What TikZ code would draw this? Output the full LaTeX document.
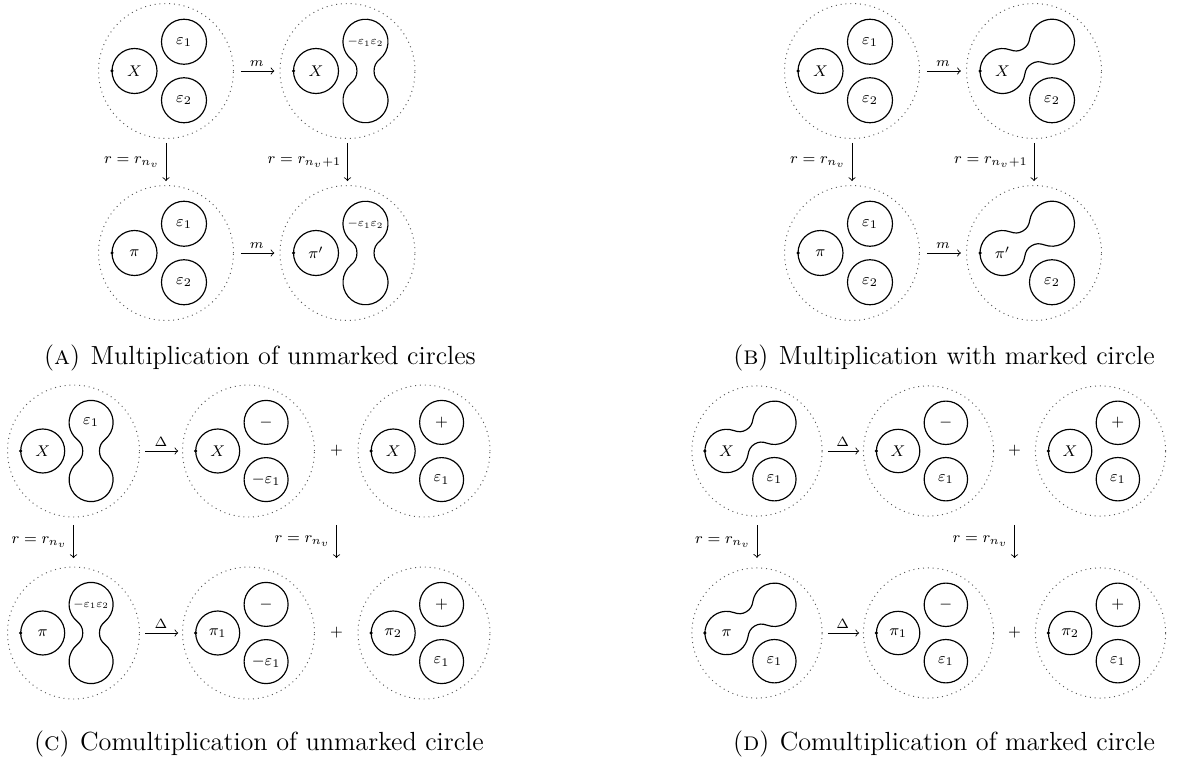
\documentclass[tikz,border=0pt]{standalone}
\tikzset{
  lobe/.style={line width=0.6pt},
  frame/.style={circle, draw=black!65, dotted, line width=0.5pt, inner sep=0pt, outer sep=0pt},
  lbl/.style={font=\fontsize{8}{9.6}\selectfont, inner sep=0pt},
  tinylbl/.style={font=\fontsize{7}{8.4}\selectfont, inner sep=0pt, scale=0.85},
  map/.style={->, line width=0.45pt, shorten <=3.8pt, shorten >=2.9pt},
  vmap/.style={->, line width=0.45pt},
  maplabel/.style={above, inner sep=2pt, font=\fontsize{7}{8.4}\selectfont},
  rlabel/.style={left, inner sep=3pt, font=\fontsize{8}{9.6}\selectfont},
  marker/.style={fill=black, circle, inner sep=0pt, minimum size=1.8pt},
  sumsign/.style={font=\fontsize{8}{9.6}\selectfont, inner sep=0pt},
  caption/.style={font=\fontsize{13.5}{16}\selectfont, inner sep=0pt, anchor=base},
  pics/dumbbell/.style={code={
    \draw[lobe] (0.3214,{#1-0.383}) arc[start angle=-50, end angle=230, radius=0.5]
      to[out=-40,in=90] (-0.19,0) to[out=-90,in=40] (-0.3214,{-#1+0.383})
      arc[start angle=130, end angle=410, radius=0.5]
      to[out=140,in=-90] (0.19,0) to[out=90,in=220] (0.3214,{#1-0.383}) -- cycle;
  }},
}
% three separate circles
\newcommand\trio[4]{%
  \draw[lobe] (-0.7,0) circle[radius=0.5];
  \draw[lobe] (0.4,0.65) circle[radius=0.5];
  \draw[lobe] (0.4,-0.65) circle[radius=0.5];
  \node[marker] (#1m) at (-1.2,0) {};
  \node[lbl] (#1x) at (-0.7,0) {#2};
  \node[lbl] (#1u) at (0.4,0.65) {#3};
  \node[lbl] (#1d) at (0.4,-0.65) {#4};
}
% marked circle plus vertical merged circle
\newcommand\vdumb[4]{%
  \draw[lobe] (-0.7,0) circle[radius=0.5];
  \pic at (0.4,0) {dumbbell=0.65};
  \node[marker] (#1m) at (-1.2,0) {};
  \node[lbl] (#1x) at (-0.7,0) {#2};
  \node[#4] (#1u) at (0.4,0.65) {#3};
}
% marked circle merged with upper circle
\newcommand\ddumb[3]{%
  \pic[rotate=-59.4] at (-0.15,0.325) {dumbbell=0.639};
  \draw[lobe] (0.4,-0.65) circle[radius=0.5];
  \node[marker] (#1m) at (-1.2,0) {};
  \node[lbl] (#1x) at (-0.7,0) {#2};
  \node[lbl] (#1d) at (0.4,-0.65) {#3};
}
\begin{document}
\begin{tikzpicture}[x=0.515pt,y=0.515pt]
\useasboundingbox (0,0) rectangle (1193,757);

%%%%% Panel A
\def\PU{23.175pt}
\begin{scope}[shift={(166,686)},x=\PU,y=\PU]
  \node[frame,minimum size={3*\PU}] (A1) at (0,0) {};
  \trio{A1}{$X$}{$\varepsilon_1$}{$\varepsilon_2$}
\end{scope}
\begin{scope}[shift={(347.5,686)},x=\PU,y=\PU]
  \node[frame,minimum size={3*\PU}] (A2) at (0,0) {};
  \vdumb{A2}{$X$}{$-\varepsilon_1\varepsilon_2$}{tinylbl}
\end{scope}
\begin{scope}[shift={(166,504)},x=\PU,y=\PU]
  \node[frame,minimum size={3*\PU}] (A3) at (0,0) {};
  \trio{A3}{$\pi$}{$\varepsilon_1$}{$\varepsilon_2$}
\end{scope}
\begin{scope}[shift={(347.5,504)},x=\PU,y=\PU]
  \node[frame,minimum size={3*\PU}] (A4) at (0,0) {};
  \vdumb{A4}{$\pi'$}{$-\varepsilon_1\varepsilon_2$}{tinylbl}
\end{scope}
\draw[map] (A1) -- node[maplabel]{$m$} (A2);
\draw[map] (A3) -- node[maplabel]{$m$} (A4);
\draw[vmap, shorten <=2.3pt, shorten >=2.3pt] (A1) -- node[rlabel]{$r=r_{n_v}$} (A3);
\draw[vmap, shorten <=2.3pt, shorten >=2.3pt] (A2) -- node[rlabel]{$r=r_{n_v+1}$} (A4);
\node[caption] (capA) at (260,392) {(\textsc{a})\hspace{0.4em}Multiplication of unmarked circles};

%%%%% Panel B
\begin{scope}[shift={(852,686)},x=\PU,y=\PU]
  \node[frame,minimum size={3*\PU}] (B1) at (0,0) {};
  \trio{B1}{$X$}{$\varepsilon_1$}{$\varepsilon_2$}
\end{scope}
\begin{scope}[shift={(1034,686)},x=\PU,y=\PU]
  \node[frame,minimum size={3*\PU}] (B2) at (0,0) {};
  \ddumb{B2}{$X$}{$\varepsilon_2$}
\end{scope}
\begin{scope}[shift={(852,504)},x=\PU,y=\PU]
  \node[frame,minimum size={3*\PU}] (B3) at (0,0) {};
  \trio{B3}{$\pi$}{$\varepsilon_1$}{$\varepsilon_2$}
\end{scope}
\begin{scope}[shift={(1034,504)},x=\PU,y=\PU]
  \node[frame,minimum size={3*\PU}] (B4) at (0,0) {};
  \ddumb{B4}{$\pi'$}{$\varepsilon_2$}
\end{scope}
\draw[map] (B1) -- node[maplabel]{$m$} (B2);
\draw[map] (B3) -- node[maplabel]{$m$} (B4);
\draw[vmap, shorten <=2.3pt, shorten >=2.3pt] (B1) -- node[rlabel]{$r=r_{n_v}$} (B3);
\draw[vmap, shorten <=2.3pt, shorten >=2.3pt] (B2) -- node[rlabel]{$r=r_{n_v+1}$} (B4);
\node[caption] (capB) at (944,392) {(\textsc{b})\hspace{0.4em}Multiplication with marked circle};

%%%%% Panel C
\def\PU{22.66pt}
\begin{scope}[shift={(73.5,306)},x=\PU,y=\PU]
  \node[frame,minimum size={3*\PU}] (C1) at (0,0) {};
  \vdumb{C1}{$X$}{$\varepsilon_1$}{lbl}
\end{scope}
\begin{scope}[shift={(248.5,306)},x=\PU,y=\PU]
  \node[frame,minimum size={3*\PU}] (C2) at (0,0) {};
  \trio{C2}{$X$}{$-$}{$-\varepsilon_1$}
\end{scope}
\begin{scope}[shift={(424,306)},x=\PU,y=\PU]
  \node[frame,minimum size={3*\PU}] (C3) at (0,0) {};
  \trio{C3}{$X$}{$+$}{$\varepsilon_1$}
\end{scope}
\begin{scope}[shift={(73.5,124)},x=\PU,y=\PU]
  \node[frame,minimum size={3*\PU}] (C4) at (0,0) {};
  \vdumb{C4}{$\pi$}{$-\varepsilon_1\varepsilon_2$}{tinylbl}
\end{scope}
\begin{scope}[shift={(248.5,124)},x=\PU,y=\PU]
  \node[frame,minimum size={3*\PU}] (C5) at (0,0) {};
  \trio{C5}{$\pi_1$}{$-$}{$-\varepsilon_1$}
\end{scope}
\begin{scope}[shift={(424,124)},x=\PU,y=\PU]
  \node[frame,minimum size={3*\PU}] (C6) at (0,0) {};
  \trio{C6}{$\pi_2$}{$+$}{$\varepsilon_1$}
\end{scope}
\node[sumsign] (Cp1) at (336.5,306) {$+$};
\node[sumsign] (Cp2) at (336.5,124) {$+$};
\coordinate (Cs1) at (336.5,232);
\coordinate (Cs2) at (336.5,199);
\draw[map, shorten <=3pt, shorten >=2.2pt] (C1) -- node[maplabel]{$\Delta$} (C2);
\draw[map, shorten <=3pt, shorten >=2.2pt] (C4) -- node[maplabel]{$\Delta$} (C5);
\draw[vmap, shorten <=4.1pt, shorten >=4.6pt] (C1) -- node[rlabel]{$r=r_{n_v}$} (C4);
\draw[vmap] (Cs1) -- node[rlabel]{$r=r_{n_v}$} (Cs2);
\node[caption] (capC) at (259,7) {(\textsc{c})\hspace{0.4em}Comultiplication of unmarked circle};

%%%%% Panel D
\def\PU{22.35pt}
\begin{scope}[shift={(757,306)},x=\PU,y=\PU]
  \node[frame,minimum size={3*\PU}] (D1) at (0,0) {};
  \ddumb{D1}{$X$}{$\varepsilon_1$}
\end{scope}
\begin{scope}[shift={(928.5,306)},x=\PU,y=\PU]
  \node[frame,minimum size={3*\PU}] (D2) at (0,0) {};
  \trio{D2}{$X$}{$-$}{$\varepsilon_1$}
\end{scope}
\begin{scope}[shift={(1100.5,306)},x=\PU,y=\PU]
  \node[frame,minimum size={3*\PU}] (D3) at (0,0) {};
  \trio{D3}{$X$}{$+$}{$\varepsilon_1$}
\end{scope}
\begin{scope}[shift={(757,124)},x=\PU,y=\PU]
  \node[frame,minimum size={3*\PU}] (D4) at (0,0) {};
  \ddumb{D4}{$\pi$}{$\varepsilon_1$}
\end{scope}
\begin{scope}[shift={(928.5,124)},x=\PU,y=\PU]
  \node[frame,minimum size={3*\PU}] (D5) at (0,0) {};
  \trio{D5}{$\pi_1$}{$-$}{$\varepsilon_1$}
\end{scope}
\begin{scope}[shift={(1100.5,124)},x=\PU,y=\PU]
  \node[frame,minimum size={3*\PU}] (D6) at (0,0) {};
  \trio{D6}{$\pi_2$}{$+$}{$\varepsilon_1$}
\end{scope}
\node[sumsign] (Dp1) at (1014.5,306) {$+$};
\node[sumsign] (Dp2) at (1014.5,124) {$+$};
\coordinate (Ds1) at (1014.5,232);
\coordinate (Ds2) at (1014.5,199);
\draw[map, shorten <=3pt, shorten >=2.2pt] (D1) -- node[maplabel]{$\Delta$} (D2);
\draw[map, shorten <=3pt, shorten >=2.2pt] (D4) -- node[maplabel]{$\Delta$} (D5);
\draw[vmap, shorten <=4.6pt, shorten >=5.2pt] (D1) -- node[rlabel]{$r=r_{n_v}$} (D4);
\draw[vmap] (Ds1) -- node[rlabel]{$r=r_{n_v}$} (Ds2);
\node[caption] (capD) at (944,7) {(\textsc{d})\hspace{0.4em}Comultiplication of marked circle};
\end{tikzpicture}
\end{document}
